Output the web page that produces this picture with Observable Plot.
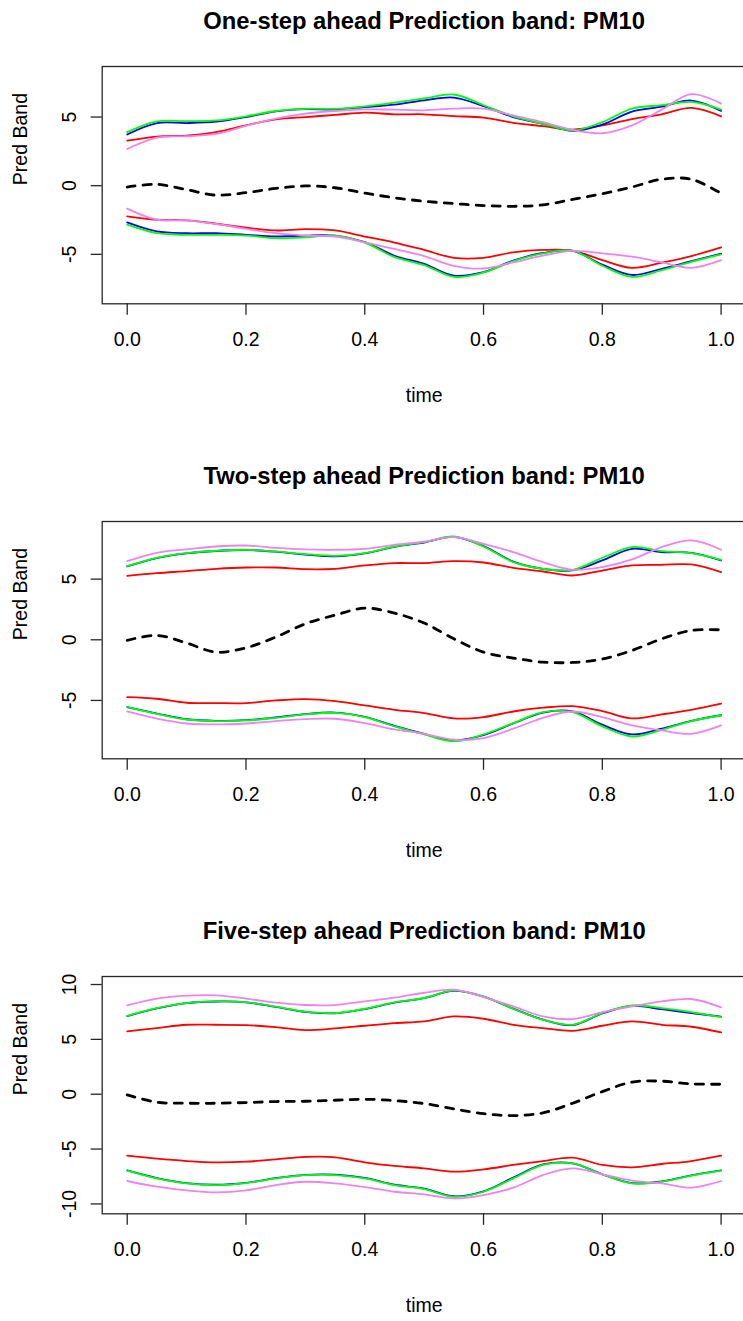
<!DOCTYPE html>
<html><head><meta charset="utf-8">
<script src="https://cdn.jsdelivr.net/npm/d3@7"></script>
<script src="https://cdn.jsdelivr.net/npm/@observablehq/plot@0.6"></script>
<style>
html,body{margin:0;padding:0;background:#fff;overflow:hidden}
.panel{width:743px;overflow:hidden;display:block}
.panel svg{display:block;max-width:none !important}
</style></head><body><div id="chart"></div>
<script>
// ---- data ----
const time = [0, 0.05, 0.1, 0.15, 0.2, 0.25, 0.3, 0.35, 0.4, 0.45, 0.5, 0.55, 0.6, 0.65, 0.7, 0.75, 0.8, 0.85, 0.9, 0.95, 1.0];
const xTicks = [0, 0.2, 0.4, 0.6, 0.8, 1.0];

const titles = ["One-step ahead Prediction band: PM10", "Two-step ahead Prediction band: PM10", "Five-step ahead Prediction band: PM10"];
const yTicks1 = [-5, 0, 5];
const yTicks2 = [-5, 0, 5];
const yTicks3 = [-10, -5, 0, 5, 10];

// Panel 1: one-step ahead
const p1Center = [-0.1, 0.1, -0.29, -0.69, -0.51, -0.2, -0.02, -0.15, -0.54, -0.88, -1.13, -1.3, -1.45, -1.5, -1.4, -1.0, -0.59, -0.1, 0.47, 0.47, -0.56];
const p1RedUp = [3.28, 3.58, 3.65, 3.9, 4.39, 4.83, 5.0, 5.15, 5.32, 5.2, 5.2, 5.07, 4.95, 4.58, 4.34, 4.09, 4.39, 4.85, 5.2, 5.66, 5.05];
const p1GreenUp = [3.9, 4.68, 4.7, 4.75, 5.05, 5.44, 5.6, 5.6, 5.78, 6.05, 6.35, 6.64, 5.86, 5.05, 4.51, 4.02, 4.63, 5.61, 5.86, 6.1, 5.54];
const p1BlueUp = [3.73, 4.56, 4.56, 4.66, 5.0, 5.42, 5.58, 5.55, 5.73, 5.9, 6.22, 6.42, 5.8, 5.0, 4.51, 4.0, 4.45, 5.4, 5.75, 6.2, 5.45];
const p1VioletUp = [2.67, 3.5, 3.6, 3.77, 4.36, 4.88, 5.25, 5.44, 5.56, 5.54, 5.49, 5.61, 5.61, 5.12, 4.63, 4.07, 3.82, 4.39, 5.54, 6.67, 5.98];
const p1RedLo = [-2.23, -2.48, -2.52, -2.77, -3.06, -3.26, -3.16, -3.26, -3.7, -4.14, -4.68, -5.25, -5.25, -4.85, -4.68, -4.73, -5.42, -5.98, -5.61, -5.12, -4.49];
const p1GreenLo = [-2.84, -3.46, -3.58, -3.58, -3.63, -3.82, -3.77, -3.63, -4.15, -5.2, -5.78, -6.64, -6.32, -5.49, -4.93, -4.73, -5.83, -6.64, -6.15, -5.54, -5.0];
const p1BlueLo = [-2.67, -3.33, -3.46, -3.46, -3.58, -3.7, -3.63, -3.63, -4.1, -5.1, -5.7, -6.55, -6.3, -5.45, -4.9, -4.75, -5.75, -6.5, -6.05, -5.5, -4.95];
const p1VioletLo = [-1.67, -2.48, -2.52, -2.79, -3.14, -3.46, -3.63, -3.7, -4.12, -4.6, -5.12, -5.83, -6.03, -5.59, -5.1, -4.75, -4.93, -5.17, -5.59, -5.98, -5.42];

// Panel 2: two-step ahead
const p2Center = [-0.05, 0.36, -0.27, -1.02, -0.66, 0.22, 1.32, 2.03, 2.61, 2.2, 1.38, 0.08, -1.02, -1.51, -1.84, -1.87, -1.59, -0.88, 0.08, 0.77, 0.82];
const p2RedUp = [5.27, 5.49, 5.66, 5.85, 5.96, 5.96, 5.82, 5.85, 6.13, 6.32, 6.32, 6.48, 6.37, 5.93, 5.63, 5.3, 5.71, 6.13, 6.18, 6.21, 5.58];
const p2GreenUp = [6.07, 6.76, 7.14, 7.34, 7.42, 7.28, 7.06, 6.92, 7.14, 7.69, 8.05, 8.52, 7.69, 6.4, 5.85, 5.77, 6.76, 7.64, 7.31, 7.14, 6.59];
const p2BlueUp = [6.05, 6.74, 7.12, 7.32, 7.4, 7.26, 7.02, 6.88, 7.12, 7.66, 8.02, 8.48, 7.72, 6.45, 5.85, 5.72, 6.54, 7.5, 7.23, 7.17, 6.54];
const p2VioletUp = [6.48, 7.17, 7.45, 7.69, 7.77, 7.58, 7.45, 7.42, 7.5, 7.83, 8.08, 8.46, 7.91, 7.23, 6.4, 5.77, 5.99, 6.62, 7.64, 8.19, 7.42];
const p2RedLo = [-4.73, -4.86, -5.19, -5.22, -5.22, -5.0, -4.89, -5.05, -5.41, -5.77, -6.04, -6.48, -6.37, -5.91, -5.6, -5.47, -5.88, -6.48, -6.15, -5.77, -5.27];
const p2GreenLo = [-5.55, -6.1, -6.57, -6.7, -6.65, -6.43, -6.15, -6.02, -6.37, -7.14, -7.8, -8.38, -7.8, -6.87, -5.96, -5.96, -7.14, -7.97, -7.42, -6.7, -6.24];
const p2BlueLo = [-5.55, -6.08, -6.55, -6.68, -6.63, -6.4, -6.12, -6.0, -6.35, -7.1, -7.75, -8.3, -7.85, -6.9, -6.0, -5.9, -7.0, -7.8, -7.33, -6.68, -6.22];
const p2VioletLo = [-5.91, -6.5, -6.9, -6.98, -6.9, -6.7, -6.54, -6.51, -6.87, -7.39, -7.75, -8.24, -8.1, -7.33, -6.43, -5.91, -6.37, -7.06, -7.47, -7.75, -7.06];

// Panel 3: five-step ahead
const p3Center = [-0.06, -0.73, -0.82, -0.82, -0.76, -0.67, -0.64, -0.55, -0.46, -0.58, -0.85, -1.34, -1.77, -1.95, -1.7, -0.82, 0.24, 1.1, 1.19, 0.94, 0.91];
const p3RedUp = [5.72, 6.03, 6.33, 6.33, 6.3, 6.12, 5.84, 6.0, 6.24, 6.48, 6.64, 7.09, 6.88, 6.33, 6.03, 5.78, 6.24, 6.64, 6.33, 6.15, 5.63];
const p3GreenUp = [7.15, 7.85, 8.31, 8.46, 8.4, 7.98, 7.52, 7.4, 7.79, 8.37, 8.77, 9.44, 8.92, 7.79, 6.79, 6.33, 7.4, 8.1, 7.85, 7.49, 7.03];
const p3BlueUp = [7.12, 7.82, 8.3, 8.45, 8.38, 7.96, 7.5, 7.38, 7.76, 8.34, 8.75, 9.42, 8.9, 7.8, 6.8, 6.3, 7.36, 8.05, 7.75, 7.4, 7.08];
const p3VioletUp = [8.1, 8.71, 8.98, 9.01, 8.71, 8.34, 8.13, 8.13, 8.46, 8.8, 9.25, 9.53, 8.86, 8.01, 7.09, 6.85, 7.49, 8.0, 8.46, 8.68, 7.91];
const p3RedLo = [-5.6, -5.88, -6.09, -6.21, -6.15, -5.94, -5.72, -5.75, -6.21, -6.54, -6.76, -7.06, -6.85, -6.45, -6.09, -5.78, -6.45, -6.67, -6.36, -6.09, -5.6];
const p3GreenLo = [-6.97, -7.67, -8.13, -8.28, -8.1, -7.67, -7.37, -7.37, -7.67, -8.28, -8.65, -9.35, -8.89, -7.67, -6.45, -6.3, -7.31, -8.13, -7.98, -7.43, -6.97];
const p3BlueLo = [-6.95, -7.64, -8.1, -8.25, -8.08, -7.65, -7.35, -7.33, -7.63, -8.25, -8.6, -9.3, -8.85, -7.6, -6.4, -6.3, -7.3, -8.1, -7.95, -7.4, -6.95];
const p3VioletLo = [-7.91, -8.43, -8.77, -8.95, -8.77, -8.28, -7.98, -8.13, -8.46, -8.89, -9.13, -9.5, -9.19, -8.52, -7.37, -6.76, -7.31, -7.88, -8.13, -8.52, -7.91];

// ---- drawing ----
const FONT = "'Liberation Sans', Arial, Helvetica, sans-serif";
const COLORS = {red: "#ff0000", blue: "#0000ff", green: "#00ff00", violet: "#ee82ee"};

function toRows(arr) { return arr.map((v, i) => ({t: time[i], v})); }

function makePanel(cfg) {
  const lines = [];
  const addLine = (arr, color) => lines.push(Plot.line(toRows(arr), {x: "t", y: "v", stroke: color, strokeWidth: 1.8, curve: "catmull-rom"}));
  lines.push(Plot.line(toRows(cfg.center), {x: "t", y: "v", stroke: "#000", strokeWidth: 2.8, strokeDasharray: "8,8", curve: "catmull-rom"}));
  for (const [up, lo, c] of [[cfg.redUp, cfg.redLo, COLORS.red], [cfg.blueUp, cfg.blueLo, COLORS.blue], [cfg.greenUp, cfg.greenLo, COLORS.green], [cfg.violetUp, cfg.violetLo, COLORS.violet]]) {
    addLine(up, c); addLine(lo, c);
  }
  return Plot.plot({
    width: 746,
    height: cfg.height,
    marginLeft: 101.7,
    marginRight: 0.4,
    marginTop: 66,
    marginBottom: cfg.height - 66 - 237.3,
    style: {fontFamily: FONT, background: "#fff", color: "#000", maxWidth: "none", height: cfg.height + "px"},
    x: {domain: [-0.0421, 1.0421]},
    y: {domain: cfg.yDomain},
    marks: [
      ...lines,
      Plot.frame({stroke: "#262626", strokeWidth: 1.3}),
      Plot.axisX({ticks: xTicks, tickFormat: d3.format(".1f"), tickSize: 11.5, tickPadding: 16.5, fontSize: 19.5, label: null, stroke: "#262626", strokeWidth: 1.3}),
      Plot.axisY({ticks: cfg.yTicks, tickFormat: d => String(d), tickSize: 11, tickPadding: 15.7, tickRotate: -90, fontSize: 19.5, label: null, stroke: "#262626", strokeWidth: 1.3}),
      Plot.text([cfg.title], {text: d => d, frameAnchor: "top", dy: -45.5, fontSize: 23.8, fontWeight: "bold", lineAnchor: "middle"}),
      Plot.text(["Pred Band"], {text: d => d, frameAnchor: "left", dx: -81, rotate: -90, fontSize: 19.5, lineAnchor: "middle"}),
      Plot.text(["time"], {text: d => d, frameAnchor: "bottom", dy: 92, fontSize: 19.5, lineAnchor: "middle"})
    ]
  });
}

const panels = [
  {title: titles[0], yDomain: [-8.6, 8.68], yTicks: yTicks1, height: 455,
   center: p1Center, redUp: p1RedUp, redLo: p1RedLo, greenUp: p1GreenUp, greenLo: p1GreenLo, blueUp: p1BlueUp, blueLo: p1BlueLo, violetUp: p1VioletUp, violetLo: p1VioletLo},
  {title: titles[1], yDomain: [-9.81, 9.75], yTicks: yTicks2, height: 455,
   center: p2Center, redUp: p2RedUp, redLo: p2RedLo, greenUp: p2GreenUp, greenLo: p2GreenLo, blueUp: p2BlueUp, blueLo: p2BlueLo, violetUp: p2VioletUp, violetLo: p2VioletLo},
  {title: titles[2], yDomain: [-10.9, 10.73], yTicks: yTicks3, height: 411,
   center: p3Center, redUp: p3RedUp, redLo: p3RedLo, greenUp: p3GreenUp, greenLo: p3GreenLo, blueUp: p3BlueUp, blueLo: p3BlueLo, violetUp: p3VioletUp, violetLo: p3VioletLo}
];

const root = document.getElementById("chart");
for (const cfg of panels) {
  const wrap = document.createElement("div");
  wrap.className = "panel";
  wrap.appendChild(makePanel(cfg));
  root.appendChild(wrap);
}
</script>
</body></html>
